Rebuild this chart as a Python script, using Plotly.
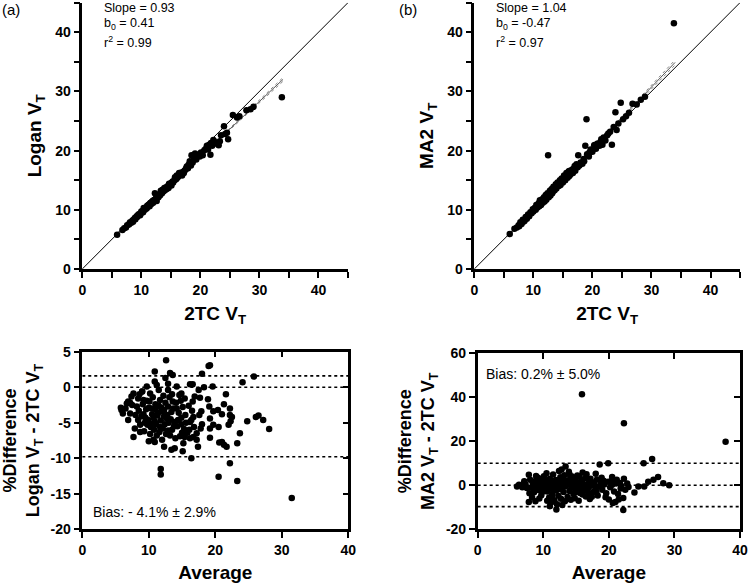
import plotly.graph_objects as go

# ---------------- data ----------------
# (a) Logan VT vs 2TC VT
a_tc = [5.9,6.8,7.1,7.4,7.6,7.9,8.1,8.3,8.5,8.7,8.9,9.0,9.2,9.4,9.5,9.7,9.9,10.0,10.2,10.3,10.5,10.6,10.8,10.9,11.0,11.1,11.3,11.4,11.5,11.7,11.8,11.9,12.0,12.2,12.3,12.4,12.5,12.6,12.8,12.9,13.0,13.2,13.3,13.5,13.6,13.8,13.9,14.0,14.2,14.3,14.5,14.6,14.8,15.0,15.1,15.3,15.4,15.6,15.7,15.9,16.0,16.1,16.3,16.4,16.6,16.8,16.9,17.1,17.3,17.5,17.7,17.9,18.0,18.2,18.4,18.5,18.7,18.9,19.1,19.3,19.6,19.9,20.1,20.4,20.7,21.0,21.3,21.5,21.7,21.8,22.0,22.3,22.6,23.0,23.3,23.1,24.0,24.2,24.7,24.5,25.5,26.2,26.6,27.8,28.5,29.0,33.8,9.8,10.4,11.2,12.1,13.1,14.1,15.2,16.2,17.2,8.0,8.6,9.3,11.6,12.7,13.7,14.7,15.8,16.7,17.6,20.3,21.1,22.2,23.5]
a_logan = [5.8,6.6,6.9,7.0,7.4,7.5,7.9,7.8,8.2,8.3,8.6,8.4,8.9,9.0,9.2,9.3,9.4,9.7,9.8,9.6,10.1,10.0,10.4,10.2,10.7,10.5,10.9,10.6,11.1,11.0,11.3,11.5,11.2,11.6,12.8,11.8,12.0,11.5,12.3,12.1,12.6,12.5,13.2,12.8,13.4,13.2,13.7,13.3,13.8,13.5,14.0,13.7,14.2,14.5,14.1,14.8,14.6,15.0,15.5,15.2,15.8,15.4,15.7,16.2,15.9,16.3,15.8,16.4,16.6,16.8,17.3,17.0,17.6,18.2,17.5,19.2,18.0,18.6,19.5,18.5,19.3,19.0,19.7,19.2,20.1,20.4,20.2,21.0,19.3,21.3,20.8,21.6,21.2,21.2,21.6,20.9,24.1,22.8,21.9,23.0,26.0,25.6,25.8,26.8,27.0,27.4,29.0,9.1,10.3,10.8,11.6,12.4,13.5,14.6,15.6,16.2,7.7,8.0,8.8,11.2,12.2,13.1,14.4,15.1,16.1,17.0,19.6,20.8,21.8,22.6]
a_slope, a_b0 = 0.93, 0.41
a_fit_x = [6, 12, 18, 24, 30, 34]
a_ci_half = [0.18, 0.08, 0.07, 0.12, 0.22, 0.32]

# (b) MA2 VT vs 2TC VT
b_tc = [6.0,6.8,7.2,7.5,7.8,8.0,8.2,8.5,8.7,8.9,9.1,9.3,9.5,9.7,9.9,10.0,10.2,10.4,10.5,10.7,10.9,11.0,11.2,11.3,11.5,11.6,11.8,11.9,12.1,12.2,12.4,12.5,12.6,12.8,12.9,13.1,13.2,13.4,13.6,13.8,13.9,14.1,14.3,14.5,14.6,14.8,15.0,15.2,15.4,15.6,15.8,16.0,16.1,16.3,16.5,16.7,16.9,17.1,17.3,17.5,17.6,17.8,18.0,18.3,18.5,18.8,19.0,19.1,19.4,19.7,20.0,20.3,20.6,20.9,21.2,21.5,21.7,21.9,22.2,22.5,23.0,23.3,23.6,23.9,24.1,24.4,24.8,25.2,25.7,26.2,26.8,27.5,28.2,28.9,33.8,10.1,10.6,11.4,12.0,12.7,13.3,14.0,14.7,15.3,15.9,16.6,17.4,9.0,9.6,8.3,7.6,11.1,12.3,13.5,14.4,15.5,16.2,17.0,18.6,19.5,20.5,21.4,22.7]
b_ma2 = [5.9,6.8,7.0,7.4,7.9,7.6,8.3,8.1,8.8,8.5,9.2,8.9,9.6,9.4,10.1,9.7,10.3,10.0,10.8,10.4,11.1,10.6,11.4,10.8,11.8,11.2,12.1,11.4,12.5,11.7,12.8,19.2,12.1,13.2,12.4,13.5,12.8,13.9,13.3,14.3,13.6,14.6,14.0,15.0,14.2,15.3,14.6,15.8,15.0,16.2,15.4,16.5,15.7,16.0,16.4,16.2,17.0,16.6,17.7,17.2,19.2,17.5,18.0,17.8,18.6,20.8,25.3,19.4,19.0,20.2,19.8,20.9,20.3,21.2,20.8,21.9,21.0,22.2,21.7,22.6,23.2,21.0,24.0,26.5,23.5,24.6,28.1,25.3,25.8,26.4,27.9,27.8,28.6,29.1,41.5,10.0,10.5,11.3,11.9,12.6,13.1,14.0,14.7,15.3,15.9,16.8,17.4,8.8,9.5,8.0,7.2,11.6,12.2,13.4,14.5,15.6,16.6,17.4,18.2,19.7,21.0,21.5,22.9]
b_slope, b_b0 = 1.04, -0.47
b_fit_x = [6, 12, 18, 24, 30, 34]
b_ci_half = [0.20, 0.09, 0.08, 0.15, 0.30, 0.42]

# (c) Bland-Altman Logan
c_avg = [12.6,19.0,19.2,10.9,13.2,13.6,18.0,12.5,25.8,24.1,10.9,11.2,9.7,12.9,14.2,16.2,16.6,18.3,19.6,12.9,17.5,21.6,7.7,7.4,8.4,9.2,6.9,6.7,5.9,6.1,5.8,7.2,6.9,7.7,8.7,10.7,10.9,12.3,13.4,13.9,15.2,16.2,16.4,15.1,11.8,11.8,20.5,23.3,22.2,31.5,28.1,27.2,26.1,26.5,24.8,23.7,23.3,21.0,21.3,21.7,20.6,19.2,19.2,19.7,20.5,19.2,21.0,20.4,19.7,19.1,22.2,22.2,22.5,22.3,22.0,21.3,18.9,17.7,16.9,15.4,14.9,17.9,17.6,16.7,16.4,17.2,16.7,17.4,17.2,18.0,17.8,
         8.2,8.5,8.9,9.1,9.4,9.6,9.9,10.1,10.3,10.5,10.7,10.8,11.0,11.1,11.3,11.5,11.6,11.8,12.0,12.1,12.3,12.5,12.6,12.8,13.0,13.1,13.3,13.5,13.7,13.9,14.1,14.3,14.5,14.7,14.9,15.1,15.3,15.5,15.8,16.0,16.2,16.5,16.8,9.2,9.7,10.4,10.9,11.4,11.9,12.4,12.9,13.4,13.8,14.4,14.8,15.6,8.0,8.7,9.3,9.8,10.2,10.6,11.0,11.7,12.2,12.7,13.2,13.6,14.0,14.6,15.0,15.4,16.1,16.6,8.4,9.0,9.5,10.0,10.6,11.2,11.7,12.3,12.9,13.5,14.2,14.9,7.5,7.9,8.6,6.5,7.2,10.0,12.0,11.5,10.2,9.0]
c_pct = [3.8,3.0,3.1,2.2,2.0,1.7,1.9,1.3,1.5,0.7,0.8,0.3,0.1,0.5,0.1,0.4,0.4,0.0,0.1,-0.4,-0.4,-1.0,-0.9,-1.3,-1.6,-1.8,-2.0,-2.3,-3.2,-3.7,-2.9,-3.7,-4.6,-7.0,-6.3,-7.4,-7.7,-8.4,-8.8,-8.6,-7.9,-7.2,-10.0,-9.0,-11.5,-12.3,-12.6,-13.2,-10.7,-15.6,-5.9,-4.6,-4.2,-4.0,-4.8,-6.5,-7.9,-7.7,-8.1,-8.4,-7.8,-7.1,-5.8,-5.3,-5.6,-4.4,-3.8,-3.2,-3.4,-2.7,-3.0,-3.9,-4.2,-4.8,-5.3,-2.4,-1.7,-1.5,-1.3,-1.6,-0.9,-3.4,-3.9,-4.2,-4.6,-6.5,-7.0,-8.4,-7.4,-5.2,-5.8,
         -2.7,-3.3,-4.1,-2.4,-5.0,-3.1,-4.6,-2.0,-5.6,-3.8,-4.3,-6.0,-3.1,-5.2,-4.0,-2.6,-6.3,-4.7,-3.4,-5.8,-4.1,-2.2,-6.6,-3.9,-5.0,-1.4,-4.5,-6.0,-3.0,-4.9,-2.2,-5.5,-3.6,-6.9,-4.3,-2.8,-5.9,-3.9,-6.4,-2.6,-4.9,-3.3,-5.6,-3.8,-1.9,-3.0,-4.8,-3.6,-2.9,-5.2,-2.7,-3.5,-5.5,-4.6,-1.9,-5.0,-3.9,-5.3,-6.2,-5.3,-6.6,-1.4,-2.4,-1.8,-1.2,-4.4,-6.8,-2.0,-7.2,-1.1,-6.4,-7.0,-6.0,-2.0,-4.6,-0.6,-4.3,-2.9,-5.1,-6.8,-5.6,-3.2,-6.1,-1.0,-3.0,-5.2,-2.5,-5.8,-1.0,-3.0,-2.2,-7.6,-7.4,-0.4,-0.9,-0.6]
c_lines = [1.6, 0.0, -9.8]

# (d) Bland-Altman MA2
d_avg = [15.9,22.3,37.8,26.6,25.3,19.9,18.6,13.4,12.8,12.4,29.2,28.3,27.5,26.8,26.0,25.4,24.5,23.9,22.2,12.0,11.0,7.8,8.8,21.0,21.5,22.2,20.6,6.0,6.3,7.0,7.1,7.8,18.0,16.0,17.2,14.0,15.5,20.5,21.2,22.3,22.8,22.5,21.8,23.0,
         8.0,8.2,8.4,8.6,8.8,9.0,9.2,9.3,9.5,9.7,9.8,10.0,10.1,10.3,10.4,10.6,10.7,10.9,11.0,11.1,11.3,11.4,11.6,11.7,11.9,12.0,12.2,12.3,12.5,12.6,12.8,12.9,13.1,13.2,13.4,13.5,13.7,13.8,14.0,14.1,14.3,14.4,14.6,14.7,14.9,15.0,15.2,15.3,15.5,15.6,15.8,15.9,16.1,16.2,16.4,16.5,16.7,16.8,17.0,17.1,17.3,17.5,17.6,17.8,18.0,18.2,18.5,18.8,19.0,19.3,19.6,19.9,20.2,20.5,20.8,21.1,21.4,21.7,8.3,8.9,9.4,9.9,10.5,11.2,11.5,12.1,12.7,13.3,13.9,14.2,14.8,15.4,16.0,16.6,17.4,18.3,18.9,19.5,20.0,10.2,10.8,11.8,12.4,13.0,13.6,14.5,15.1,16.3,17.2,9.6,10.0,11.5,12.3,13.1,14.0,14.9,15.7,16.9,18.1,8.5,9.1,7.5,7.9,7.3,6.8,19.2,20.4,21.9,10.6,12.9,11.3,14.4]
d_pct = [41.4,28.2,19.8,12.0,10.0,10.0,9.4,8.5,7.2,6.5,0.0,0.9,3.8,2.5,1.6,-0.6,-0.5,-3.3,-11.2,-11.0,-9.5,-7.6,-7.3,-7.6,-6.5,-5.8,-8.0,-0.5,0.3,0.5,1.8,4.8,5.3,5.8,3.0,5.0,4.0,3.8,2.5,3.0,0.8,-2.0,-1.5,-0.8,
         2.5,-1.0,0.8,-3.2,1.9,-0.6,3.4,-2.1,0.2,-4.5,1.2,-1.6,4.1,-0.3,2.2,-2.8,0.6,-5.6,3.0,-1.2,1.5,-3.9,0.1,-6.8,2.4,-2.3,0.9,-4.7,-0.8,3.6,-1.9,1.3,-3.1,4.6,-0.4,2.0,-5.3,0.5,-2.6,3.1,-1.1,1.7,-4.0,0.0,2.8,-1.7,4.4,-0.6,1.0,-3.5,2.3,-0.9,0.7,-2.4,3.3,-5.1,0.3,-1.5,2.0,-6.2,-0.2,1.4,-3.0,0.9,-1.3,2.6,-0.5,1.1,-2.0,0.4,-3.6,1.6,-0.9,0.2,-2.8,0.8,-4.0,1.0,-5.5,4.2,-6.0,-2.9,5.5,-7.8,4.9,-8.6,-6.1,-7.3,6.2,-6.6,-5.9,-7.0,-4.2,5.0,-5.2,-4.6,3.4,-5.4,-6.5,1.0,-0.4,0.7,1.8,-0.2,0.3,-0.9,0.6,-0.1,0.5,1.9,0.4,-2.0,-1.4,2.7,1.2,-3.0,-2.2,-3.8,-2.9,-1.8,0.9,-1.2,-3.6,0.4,-0.9,2.1,1.9,-0.3,-7.0,-9.0,-5.0,4.0]
d_lines = [10.0, 0.0, -9.7]

FONT = "Arial, 'Liberation Sans', sans-serif"
BLK = "black"

fig = go.Figure()

def scatter(x, y, xa, ya, size):
    fig.add_trace(go.Scatter(x=x, y=y, mode="markers", xaxis=xa, yaxis=ya,
                             marker=dict(color=BLK, size=size, line=dict(width=0)),
                             showlegend=False, hoverinfo="x+y"))

def line(x, y, xa, ya, color=BLK, width=1, dash="solid"):
    fig.add_trace(go.Scatter(x=x, y=y, mode="lines", xaxis=xa, yaxis=ya,
                             line=dict(color=color, width=width, dash=dash),
                             showlegend=False, hoverinfo="skip"))

# identity lines
line([0, 45], [0, 45], "x", "y")
line([0, 45], [0, 45], "x2", "y2")

# regression lines with CI
for fx, half, s, b, xa, ya in [(a_fit_x, a_ci_half, a_slope, a_b0, "x", "y"),
                               (b_fit_x, b_ci_half, b_slope, b_b0, "x2", "y2")]:
    fy = [s * v + b for v in fx]
    line(fx, fy, xa, ya, color="#555555", width=1)
    line(fx, [v + h for v, h in zip(fy, half)], xa, ya, color="#888888", width=1, dash="dot")
    line(fx, [v - h for v, h in zip(fy, half)], xa, ya, color="#888888", width=1, dash="dot")

scatter(a_tc, a_logan, "x", "y", 6.5)
scatter(b_tc, b_ma2, "x2", "y2", 6.5)

for lv in c_lines:
    line([0, 40], [lv, lv], "x3", "y3", width=1.6, dash="dot")
for lv in d_lines:
    line([0, 40], [lv, lv], "x4", "y4", width=1.6, dash="dot")

scatter(c_avg, c_pct, "x3", "y3", 6.5)
scatter(d_avg, d_pct, "x4", "y4", 6.5)

tickfont = dict(family=FONT, size=14, color=BLK, weight="bold")
titlefont = dict(family=FONT, size=19, color=BLK, weight="bold")

top_vals = list(range(0, 50, 5))
top_text = [str(v) if v % 10 == 0 else "" for v in top_vals]

def ax(domain, rng, tv, tt, anchor, title, standoff, tlen=6):
    return dict(domain=domain, range=rng, anchor=anchor, tickmode="array", tickvals=tv, ticktext=tt,
                ticks="outside", ticklen=tlen, tickwidth=2, tickcolor=BLK,
                showline=True, linecolor=BLK, linewidth=2.5, showgrid=False, zeroline=False,
                tickfont=tickfont, title=dict(text=title, font=titlefont, standoff=standoff),
                automargin=False, fixedrange=True)

lay = dict(width=750, height=584, margin=dict(l=0, r=0, t=0, b=0, autoexpand=False),
           paper_bgcolor="white", plot_bgcolor="white", showlegend=False)

lay["xaxis"] = ax([0.1097, 0.464], [0, 45], top_vals, top_text, "y", "2TC V<sub>T</sub>", 11)
lay["yaxis"] = ax([0.5394, 0.9955], [0, 45], top_vals, top_text, "x", "Logan V<sub>T</sub>", 9)
lay["xaxis2"] = ax([0.6324, 0.9867], [0, 45], top_vals, top_text, "y2", "2TC V<sub>T</sub>", 11)
lay["yaxis2"] = ax([0.5394, 0.9955], [0, 45], top_vals, top_text, "x2", "MA2 V<sub>T</sub>", 9)

bx_vals = [0, 10, 20, 30, 40]
bx_text = [str(v) for v in bx_vals]
c_yv = [-20, -15, -10, -5, 0, 5]
d_yv = [-20, 0, 20, 40, 60]
lay["xaxis3"] = ax([0.1097, 0.4644], [0, 40], bx_vals, bx_text, "y3", "Average", 9)
lay["yaxis3"] = ax([0.0937, 0.3978], [-20, 5], c_yv, [str(v) for v in c_yv], "x3",
                   "%Difference<br>Logan V<sub>T</sub> - 2TC V<sub>T</sub>", 7)
lay["xaxis4"] = ax([0.6369, 0.9867], [0, 40], bx_vals, bx_text, "y4", "Average", 9)
lay["yaxis4"] = ax([0.0937, 0.395], [-20, 60], d_yv, [str(v) for v in d_yv], "x4",
                   "%Difference<br>MA2 V<sub>T</sub> - 2TC V<sub>T</sub>", 7)
for k in ("xaxis3", "xaxis4"):
    lay[k]["title"]["font"] = dict(family=FONT, size=19, color=BLK, weight="bold")
for k in ("yaxis3", "yaxis4"):
    lay[k]["title"]["font"] = dict(family=FONT, size=18, color=BLK, weight="bold")

def mirror(over, anchor, rng, tv, side):
    return dict(overlaying=over, anchor=anchor, side=side, range=rng, tickmode="array", tickvals=tv,
                showticklabels=False, ticks="inside", ticklen=6, tickwidth=2, tickcolor=BLK,
                showline=True, linecolor=BLK, linewidth=2.5, showgrid=False, zeroline=False,
                automargin=False, fixedrange=True)

lay["xaxis5"] = mirror("x3", "y3", [0, 40], bx_vals, "top")
lay["yaxis5"] = mirror("y3", "x3", [-20, 5], c_yv, "right")
lay["xaxis6"] = mirror("x4", "y4", [0, 40], bx_vals, "top")
lay["yaxis6"] = mirror("y4", "x4", [-20, 60], d_yv, "right")

fig.update_layout(**lay)

fig.add_trace(go.Scatter(x=[None], y=[None], xaxis="x5", yaxis="y5", showlegend=False, hoverinfo="skip"))
fig.add_trace(go.Scatter(x=[None], y=[None], xaxis="x6", yaxis="y6", showlegend=False, hoverinfo="skip"))

def note(text, x, y, size=12, xanchor="left"):
    fig.add_annotation(text=text, xref="paper", yref="paper", x=x / 750, y=1 - y / 584,
                       xanchor=xanchor, yanchor="middle", showarrow=False,
                       font=dict(family=FONT, size=size, color=BLK))

note("(a)", 0, 9, 15)
note("(b)", 397, 9, 15)
note("Slope = 0.93", 102, 8, 12.5)
note("b<sub>0</sub> = 0.41", 102, 24, 12.5)
note("r<sup>2</sup> = 0.99", 102, 42, 12.5)
note("Slope = 1.04", 494, 8, 12.5)
note("b<sub>0</sub> = -0.47", 494, 24, 12.5)
note("r<sup>2</sup> = 0.97", 494, 42, 12.5)
note("Bias: - 4.1% ± 2.9%", 91, 512, 14)
note("Bias: 0.2% ± 5.0%", 484, 374, 14)

fig.write_html("out.html", config={"displayModeBar": False},
               post_script="document.body.style.margin='0';document.body.style.padding='0';")
